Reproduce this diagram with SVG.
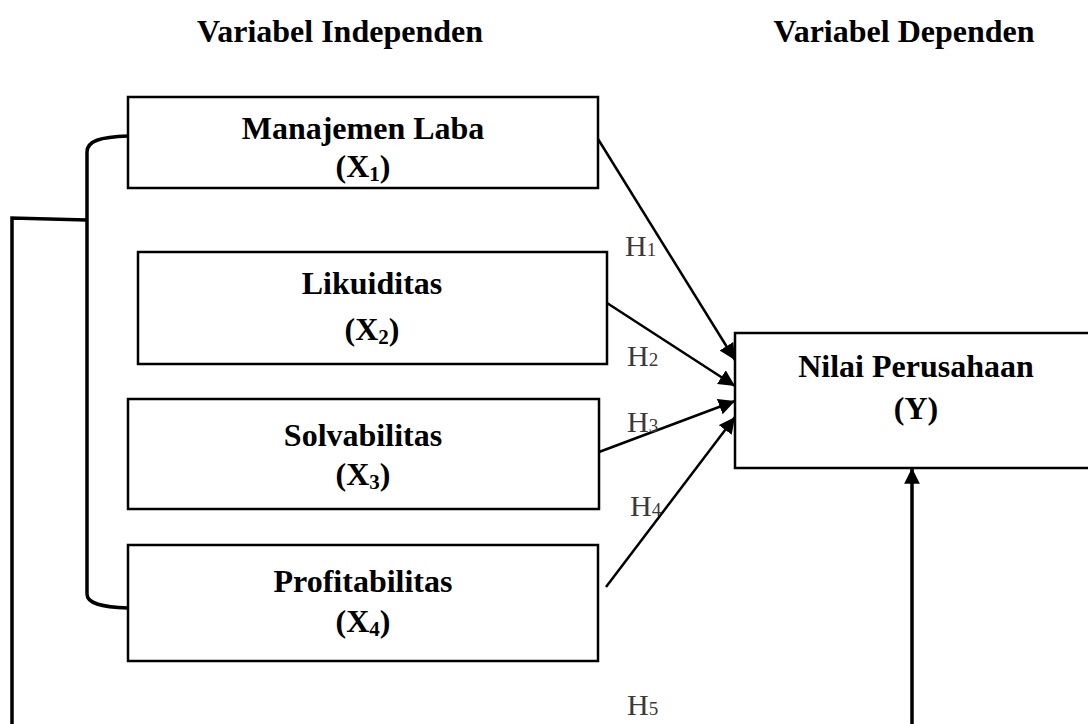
<svg xmlns="http://www.w3.org/2000/svg" width="1088" height="724" viewBox="0 0 1088 724">
<style>
.box{fill:#fff;stroke:#000;stroke-width:2.5}
.t{font-family:"Liberation Serif","Times New Roman",serif;font-weight:bold;font-size:32px;fill:#000;text-anchor:middle}
.sub{font-size:21px}
.h{font-family:"Liberation Serif","Times New Roman",serif;font-size:30px;fill:#3a3a3a}
.hd{font-size:19px}
.ln{fill:none;stroke:#000;stroke-width:2.5}
.thick{fill:none;stroke:#000;stroke-width:3.5}
</style>
<defs>
<marker id="arr" viewBox="0 0 10 10" refX="10" refY="5" markerWidth="6.5" markerHeight="6.5" markerUnits="strokeWidth" orient="auto">
<path d="M0,0 L10,5 L0,10 z" fill="#000"/>
</marker>
<marker id="arr2" viewBox="0 0 10 10" refX="10" refY="5" markerWidth="4.5" markerHeight="4.5" markerUnits="strokeWidth" orient="auto">
<path d="M0,0 L10,5 L0,10 z" fill="#000"/>
</marker>
</defs>
<rect width="1088" height="724" fill="#fff"/>
<g id="titles">
<text class="t" x="340" y="42">Variabel Independen</text>
<text class="t" x="904" y="42">Variabel Dependen</text>
</g>
<g id="connectors">
<path class="thick" d="M128,136 C100,137 87,141 87,152 L87,594 C87,603 100,607 128,608"/>
<path class="thick" d="M87,220 L12,218 L12,730"/>
<line class="ln" x1="598" y1="139" x2="735" y2="360" marker-end="url(#arr)"/>
<line class="ln" x1="607" y1="303" x2="735" y2="386" marker-end="url(#arr)"/>
<line class="ln" x1="599" y1="452" x2="735" y2="401" marker-end="url(#arr)"/>
<line class="ln" x1="606" y1="587" x2="735" y2="417" marker-end="url(#arr)"/>
<line class="thick" x1="912" y1="730" x2="912" y2="468" marker-end="url(#arr2)"/>
<text class="h" x="625" y="256">H<tspan class="hd">1</tspan></text>
<text class="h" x="627" y="366">H<tspan class="hd">2</tspan></text>
<text class="h" x="627" y="432">H<tspan class="hd">3</tspan></text>
<text class="h" x="630" y="516">H<tspan class="hd">4</tspan></text>
<text class="h" x="627" y="715">H<tspan class="hd">5</tspan></text>
</g>
<g id="x1">
<rect class="box" x="128" y="97" width="470" height="91"/>
<text class="t" x="363" y="139">Manajemen Laba</text>
<text class="t" x="363" y="177">(X<tspan class="sub" dy="4">1</tspan><tspan dy="-4">)</tspan></text>
</g>
<g id="x2">
<rect class="box" x="138" y="252" width="469" height="112"/>
<text class="t" x="372" y="294">Likuiditas</text>
<text class="t" x="372" y="340">(X<tspan class="sub" dy="4">2</tspan><tspan dy="-4">)</tspan></text>
</g>
<g id="x3">
<rect class="box" x="128" y="399" width="471" height="110"/>
<text class="t" x="363" y="446">Solvabilitas</text>
<text class="t" x="363" y="485">(X<tspan class="sub" dy="4">3</tspan><tspan dy="-4">)</tspan></text>
</g>
<g id="x4">
<rect class="box" x="128" y="545" width="470" height="116"/>
<text class="t" x="363" y="592">Profitabilitas</text>
<text class="t" x="363" y="632">(X<tspan class="sub" dy="4">4</tspan><tspan dy="-4">)</tspan></text>
</g>
<g id="y">
<rect class="box" x="735" y="333" width="370" height="135"/>
<text class="t" x="916" y="377">Nilai Perusahaan</text>
<text class="t" x="916" y="419">(Y)</text>
</g>
</svg>
